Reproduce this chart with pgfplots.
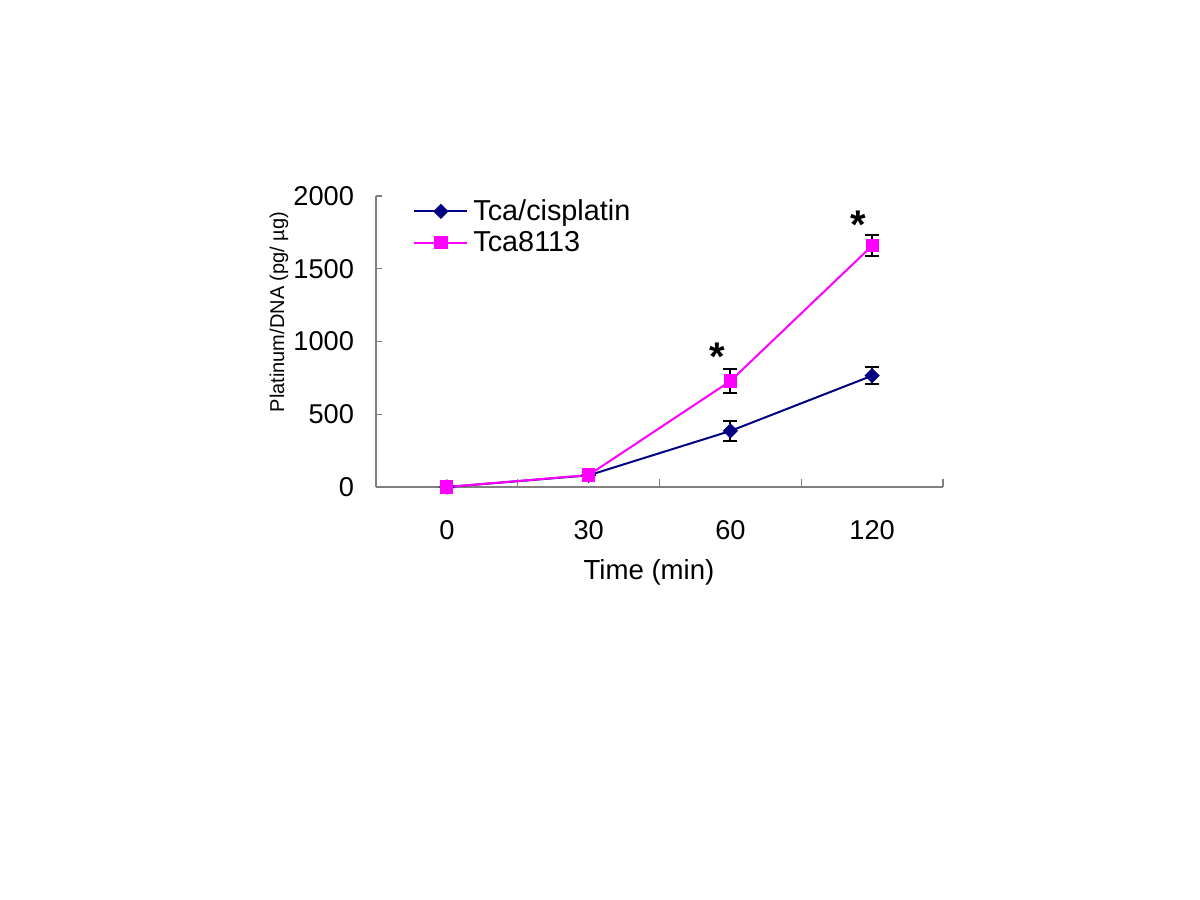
\documentclass[border=0pt]{standalone}
\usepackage{pgfplots}
\pgfplotsset{compat=1.18}
\usepackage{fontspec}
\setmainfont{Liberation Sans}
\definecolor{navyc}{RGB}{0,0,128}
\definecolor{magc}{RGB}{255,0,255}
\definecolor{axgray}{RGB}{128,128,128}
\begin{document}
\begin{tikzpicture}[x=1pt,y=1pt]
\path[fill=white,use as bounding box] (0,0) rectangle (600,450);
\begin{axis}[
  at={(188pt,206.5pt)}, anchor=south west,
  scale only axis, width=283.5pt, height=145.5pt,
  xmin=-0.5, xmax=3.5, ymin=0, ymax=2000,
  axis x line*=bottom, axis y line*=left,
  axis line style={draw=axgray, line width=0.6pt},
  xtick={0,1,2,3}, xticklabels={0,30,60,120},
  x tick style={draw=none},
  extra x ticks={0.5,1.5,2.5,3.5}, extra x tick labels={},
  extra x tick style={x tick style={draw=axgray, line width=0.6pt}, major tick length=4pt, tick align=inside},
  ytick={0,500,1000,1500,2000},
  y tick style={draw=axgray, line width=0.6pt},
  major tick length=3pt, tick align=inside,
  tick label style={font=\fontsize{13.6}{15}\selectfont},
  /pgf/number format/assume math mode=true,
  yticklabel style={xshift=-7.5pt},
  xticklabel style={yshift=-13pt},
  scaled y ticks=false,
  yticklabel={\pgfmathprintnumber[fixed,precision=0,1000 sep={}]{\tick}},
  legend style={draw=none, fill=none, at={(rel axis cs:0,1)}, anchor=north west,
    xshift=18.5pt, yshift=1pt, font=\fontsize{14.4}{16}\selectfont,
    row sep=-1pt, inner sep=0pt, nodes={inner sep=2.5pt}},
  legend cell align=left,
  legend image code/.code={\draw[mark repeat=2,mark phase=2,#1] plot coordinates {(0pt,0pt) (13.25pt,0pt) (26.5pt,0pt)};},
  clip=false,
]
\addplot[navyc, line width=1pt, mark=square*, mark size=2.2pt,
  mark options={fill=navyc, draw=navyc, rotate=45},
  error bars/.cd, y dir=both, y explicit,
  error bar style={black, line width=1pt},
  error mark options={black, rotate=90, mark size=3.5pt, line width=1pt}]
  coordinates {(0,0) +- (0,0) (1,80) +- (0,0) (2,385) +- (0,72) (3,765) +- (0,58)};
\addlegendentry{Tca/cisplatin}
\addplot[magc, line width=1pt, mark=square*, mark size=2.8pt,
  mark options={fill=magc, draw=magc},
  error bars/.cd, y dir=both, y explicit,
  error bar style={black, line width=1pt},
  error mark options={black, rotate=90, mark size=3.5pt, line width=1pt}]
  coordinates {(0,0) +- (0,0) (1,82) +- (0,0) (2,728) +- (0,83) (3,1658) +- (0,72)};
\addlegendentry{Tca8113}
\node[anchor=base, inner sep=0pt, font=\fontsize{20}{20}\selectfont\bfseries, yshift=-10.5pt] at (axis cs:1.91,942) {*};
\node[anchor=base, inner sep=0pt, font=\fontsize{20}{20}\selectfont\bfseries, yshift=-10.5pt] at (axis cs:2.90,1849) {*};
\end{axis}
\node[anchor=base, font=\fontsize{13.8}{16}\selectfont] at (324.5,160) {Time (min)};
\node[anchor=base, rotate=90, inner sep=0pt, font=\fontsize{10}{12}\selectfont] at (142,294) {Platinum/DNA (pg/ µg)};
\end{tikzpicture}
\end{document}
